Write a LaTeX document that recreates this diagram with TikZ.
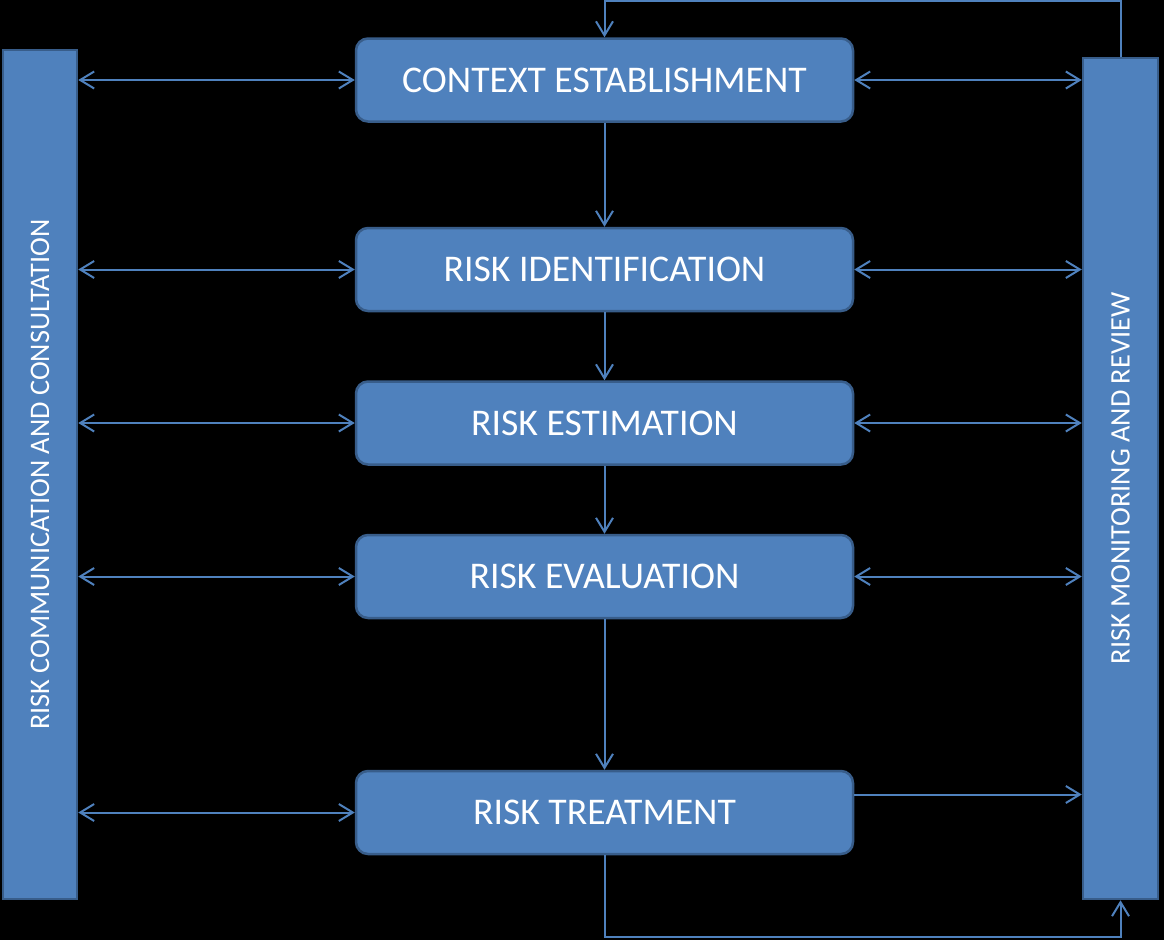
\documentclass[tikz,border=0pt]{standalone}
\usepackage{fontspec}
\setmainfont{Carlito}
\usetikzlibrary{arrows.meta}
\definecolor{boxblue}{HTML}{4F81BD}
\definecolor{boxline}{HTML}{385D8A}

\begin{document}
\begin{tikzpicture}[
  x=1pt,y=-1pt,
  process/.style={draw=boxline,line width=2.5pt,rounded corners=12pt,fill=boxblue,text=white,minimum width=497pt,minimum height=83pt,font=\fontsize{37.7}{44}\selectfont},
  sidebar/.style={draw=boxline,line width=2.5pt,fill=boxblue,text=white,font=\fontsize{28.3}{33}\selectfont},
  link/.style={-{Straight Barb[length=14pt,width=17pt]},line width=2pt,boxblue},
  biLink/.style={{Straight Barb[length=14pt,width=17pt]}-{Straight Barb[length=14pt,width=17pt]},line width=2pt,boxblue}]

  % background and page size
  \fill[black] (0,0) rectangle (1164,940);
  \useasboundingbox (0,0) rectangle (1164,940);

  % process steps
  \node[process] (ce)  at (604.5,80)    {CONTEXT ESTABLISHMENT};
  \node[process] (ri)  at (604.5,269.5) {RISK IDENTIFICATION};
  \node[process] (re)  at (604.5,423)   {RISK ESTIMATION};
  \node[process] (rev) at (604.5,576.5) {RISK EVALUATION};
  \node[process] (rt)  at (604.5,812.5) {RISK TREATMENT};

  % side bars
  \node[sidebar,minimum width=849pt,minimum height=74pt,rotate=90] (comm) at (40,474.5) {RISK COMMUNICATION AND CONSULTATION};
  \node[sidebar,minimum width=841pt,minimum height=75pt,rotate=90] (mon) at (1120.5,478.5) {RISK MONITORING AND REVIEW};

  % loop lines
  \coordinate (topline) at (0,1);
  \coordinate (botline) at (0,937);
  \coordinate (rtout) at ([yshift=18pt]rt.east);

  % main flow
  \draw [link] (ce) -- (ri);
  \draw [link] (ri) -- (re);
  \draw [link] (re) -- (rev);
  \draw [link] (rev) -- (rt);

  % communication
  \draw [biLink] (comm.south |- ce.west)  -- (ce.west);
  \draw [biLink] (comm.south |- ri.west)  -- (ri.west);
  \draw [biLink] (comm.south |- re.west)  -- (re.west);
  \draw [biLink] (comm.south |- rev.west) -- (rev.west);
  \draw [biLink] (comm.south |- rt.west)  -- (rt.west);

  % monitoring
  \draw [biLink] (ce.east)  -- (mon.north |- ce.east);
  \draw [biLink] (ri.east)  -- (mon.north |- ri.east);
  \draw [biLink] (re.east)  -- (mon.north |- re.east);
  \draw [biLink] (rev.east) -- (mon.north |- rev.east);
  \draw [link] (rtout) -- (mon.north |- rtout);

  % feedback
  \draw [link] (mon.east) -- (mon.east |- topline) -| (ce.north);
  \draw [link] (rt.south) -- (rt.south |- botline) -| (mon.west);

\end{tikzpicture}
\end{document}
